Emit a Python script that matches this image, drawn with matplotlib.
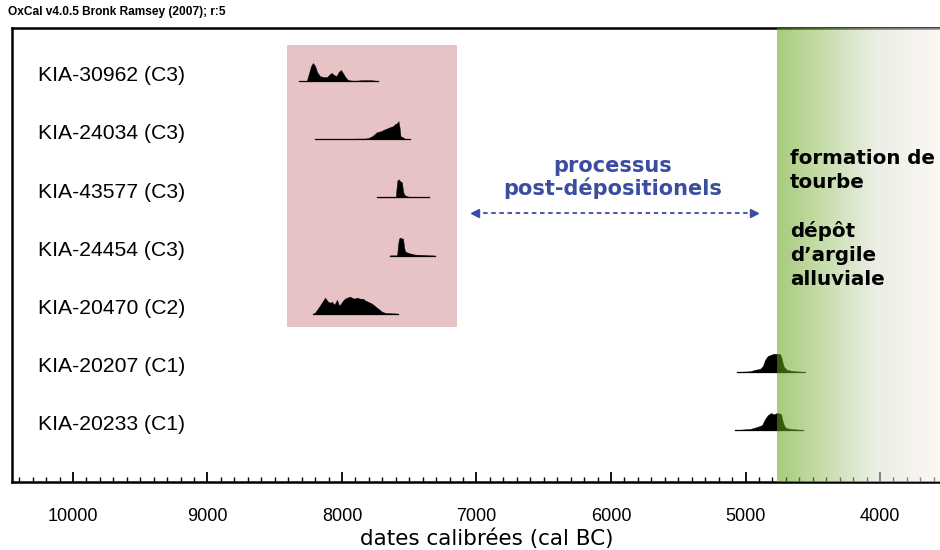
import numpy as np
import matplotlib
matplotlib.use('Agg')
import matplotlib.pyplot as plt
from matplotlib.colors import LinearSegmentedColormap

# sample labels, top to bottom
labels = ['KIA-30962 (C3)', 'KIA-24034 (C3)', 'KIA-43577 (C3)', 'KIA-24454 (C3)',
          'KIA-20470 (C2)', 'KIA-20207 (C1)', 'KIA-20233 (C1)']

# calibrated distributions (cal BC, relative probability)
r1_dates = [8320, 8262, 8245, 8230, 8216, 8200, 8185, 8165, 8140, 8110, 8090, 8075, 8060, 8040,
            8025, 8008, 7993, 7975, 7956, 7935, 7900, 7850, 7780, 7732]
r1_dens = [0, 0, 8, 15, 18, 15, 9, 5, 4, 4, 7, 8, 6, 5, 9, 11, 8, 4, 1, 0.5, 0.3, 0.8, 0.8, 0]

r2_dates = [8201, 7960, 7900, 7830, 7807, 7775, 7740, 7710, 7680, 7660, 7643, 7620, 7606, 7590,
            7580, 7572, 7565, 7550, 7530, 7494]
r2_dens = [0, 0, 0.6, 0.6, 1, 3, 7, 8, 10, 11, 12, 13, 15, 16, 18, 12, 3, 2, 0.5, 0]

r3_dates = [7740, 7600, 7594, 7588, 7578, 7566, 7554, 7546, 7538, 7525, 7500, 7353]
r3_dens = [0, 0, 10, 17, 18, 16, 15, 6, 3, 1.5, 0.5, 0]

r4_dates = [7643, 7590, 7584, 7576, 7566, 7556, 7546, 7538, 7530, 7515, 7490, 7460, 7420, 7309]
r4_dens = [0, 0, 10, 17, 18, 17, 17, 8, 4, 3, 2, 1, 0.5, 0]

r5_dates = [8216, 8201, 8185, 8164, 8145, 8126, 8115, 8104, 8090, 8074, 8059, 8048, 8037, 8022,
            8008, 7993, 7978, 7963, 7941, 7925, 7911, 7889, 7865, 7844, 7825, 7807, 7777, 7740,
            7703, 7673, 7620, 7584]
r5_dens = [0, 1, 4, 8, 12, 16, 14, 12, 11, 12, 9, 11, 14, 8, 10, 13, 15, 16, 17, 16, 15, 16, 15,
           15, 13, 12, 10, 6, 2, 0.5, 0.3, 0]

r6_dates = [5063, 4967, 4930, 4892, 4870, 4855, 4833, 4810, 4796, 4773, 4744, 4732, 4722, 4714,
            4692, 4655, 4618, 4558]
r6_dens = [0, 0.5, 2, 3, 6, 12, 16, 17, 18, 18, 18, 14, 8, 5, 2, 1, 0.5, 0]

r7_dates = [5078, 4967, 4915, 4877, 4855, 4833, 4810, 4795, 4781, 4768, 4758, 4736, 4726, 4715,
            4699, 4655, 4610, 4572]
r7_dens = [0, 1, 3, 5, 11, 15, 17, 16, 16, 17, 17, 16, 10, 5, 2, 1, 0.5, 0]

all_dates = [r1_dates, r2_dates, r3_dates, r4_dates, r5_dates, r6_dates, r7_dates]
all_dens = [r1_dens, r2_dens, r3_dens, r4_dens, r5_dens, r6_dens, r7_dens]

# highlighted zones
pink_zone = (8408, 7144)
green_start = 4765
arrow_span = (7010, 4935)

xticks = [10000, 9000, 8000, 7000, 6000, 5000, 4000]

fig = plt.figure(figsize=(9.4, 5.5), dpi=100)
ax = fig.add_axes([0.0128, 0.1236, 0.9872, 0.8255])
ax.set_xlim(10453, 3554)
ax.set_ylim(6.894, -0.911)

hscale = 1 / 58.17

# pink block
ax.fill_between(pink_zone, [-0.619, -0.619], [4.23, 4.23], color='#e8c3c6', lw=0, zorder=1)

for i in range(len(labels)):
    d = np.array(all_dates[i])
    p = np.array(all_dens[i])
    ax.plot([d[0], d[-1]], [i, i], color='black', lw=0.9, zorder=3)
    ax.fill_between(d, i, i - p * hscale, color='black', lw=0.3, zorder=3)
    ax.text(0.028, i - 0.09, labels[i], transform=ax.get_yaxis_transform(),
            ha='left', va='center', fontsize=15.2, family='Liberation Sans')

# green gradient (semi transparent, drawn over the distributions)
cmap = LinearSegmentedColormap.from_list('peat', [
    (0.0, (97/255, 161/255, 20/255)),
    (0.25, (146/255, 191/255, 91/255)),
    (0.6, (218/255, 224/255, 205/255)),
    (1.0, (250/255, 242/255, 236/255))])
grad = np.linspace(0, 1, 256).reshape(1, -1)
ax.imshow(grad, cmap=cmap, extent=(green_start, 3554, 6.894, -0.911), aspect='auto',
          alpha=0.55, zorder=4, interpolation='bilinear')
ax.set_xlim(10453, 3554)
ax.set_ylim(6.894, -0.911)

blue = '#3a4da0'
ax.plot(arrow_span, [2.27, 2.27], color=blue, lw=1.3, linestyle=(0, (2.5, 2)), zorder=5)
ax.plot([arrow_span[0]], [2.27], marker='<', color=blue, markersize=5.5, zorder=5)
ax.plot([arrow_span[1]], [2.27], marker='>', color=blue, markersize=5.5, zorder=5)
ax.text(5990, 1.66, 'processus\npost-dépositionels', ha='center', va='center',
        color=blue, fontsize=15, fontweight='bold', family='DejaVu Sans', linespacing=1.1, zorder=5)

ax.text(4669, 1.17, 'formation de\ntourbe\n\ndépôt\nd\u2019argile\nalluviale', ha='left', va='top',
        color='black', fontsize=14.3, fontweight='bold', family='DejaVu Sans', linespacing=1.33, zorder=5)

# axes styling
for s in ['top', 'left', 'bottom']:
    ax.spines[s].set_linewidth(1.8)
ax.spines['right'].set_visible(False)
ax.set_yticks([])
ax.set_xticks(xticks)
ax.set_xticklabels([str(t) for t in xticks], family='Liberation Sans', fontsize=13)
ax.set_xticks(np.arange(3600, 10500, 100), minor=True)
ax.tick_params(axis='x', which='major', direction='in', length=7, width=1.3, pad=19)
ax.tick_params(axis='x', which='minor', direction='in', length=3.5, width=1.0)
ax.set_xlabel('dates calibrées (cal BC)', fontsize=15.5, family='DejaVu Sans')
ax.xaxis.set_label_coords(0.512, -0.102)

fig.text(0.009, 0.978, 'OxCal v4.0.5 Bronk Ramsey (2007); r:5', fontsize=8.6, fontweight='bold',
         family='Liberation Sans', va='center', ha='left')

fig.savefig('out.png', dpi=100)
